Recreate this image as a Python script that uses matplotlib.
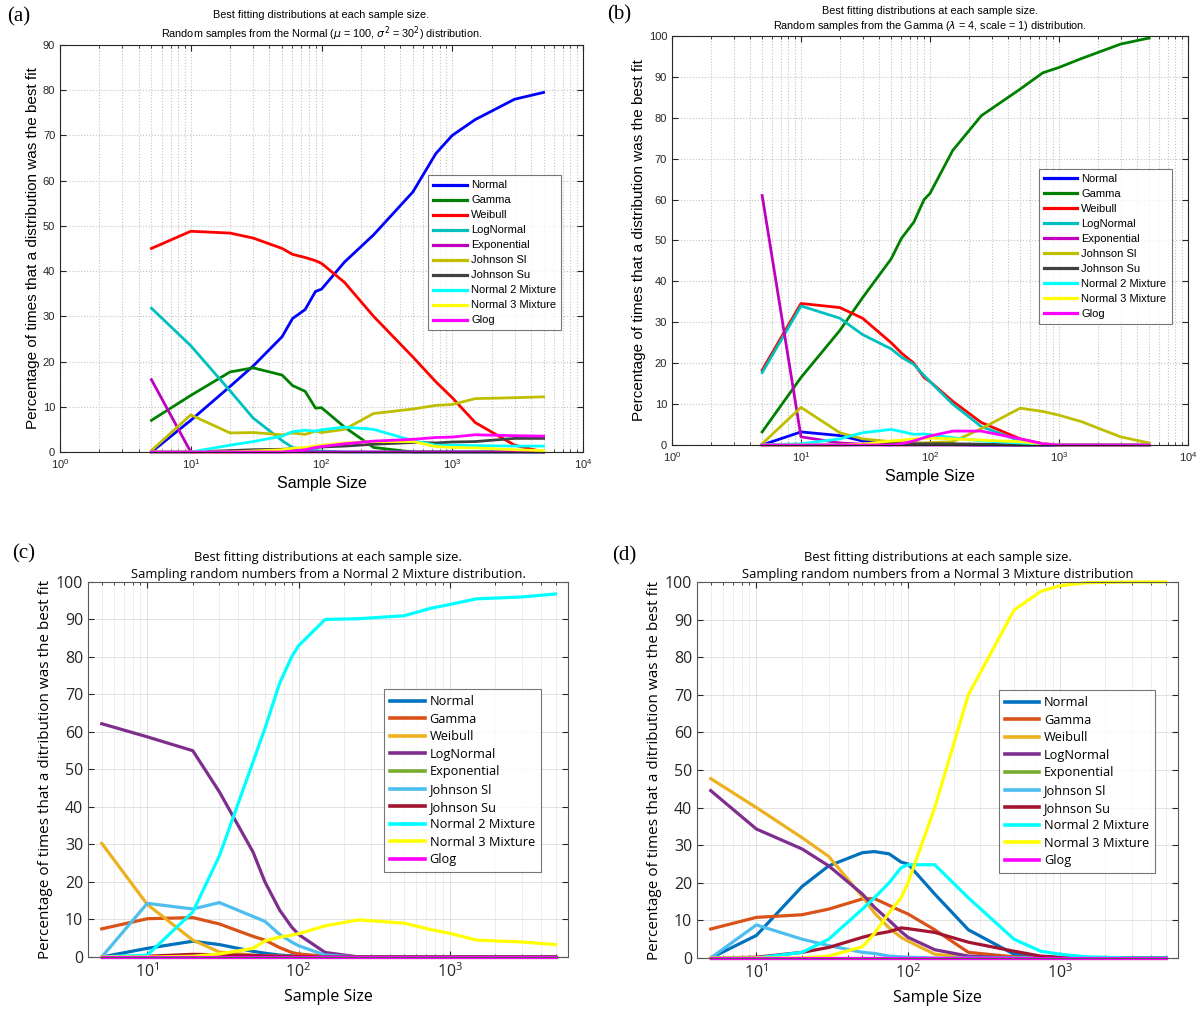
#!/usr/bin/env python3
import numpy as np
import matplotlib
matplotlib.use('Agg')
import matplotlib.pyplot as plt
from matplotlib.ticker import LogLocator, NullFormatter, MultipleLocator

# sample sizes
N = [5, 10, 20, 30, 50, 60, 75, 90, 100, 150, 250, 500, 750, 1000, 1500, 3000, 5000]

names = ['Normal', 'Gamma', 'Weibull', 'LogNormal', 'Exponential', 'Johnson Sl',
         'Johnson Su', 'Normal 2 Mixture', 'Normal 3 Mixture', 'Glog']

# (a) samples from Normal
a_normal = [0, 7, 14.5, 19, 25.5, 29.5, 31.5, 35.5, 36, 42, 48, 57.5, 66, 70, 73.5, 78, 79.5]
a_gamma = [7, 12.5, 17.7, 18.6, 17, 14.7, 13.4, 9.7, 9.8, 5.5, 1, 0, 0, 0, 0, 0, 0]
a_weibull = [45, 48.8, 48.4, 47.3, 45, 43.7, 43, 42.3, 41.7, 37.5, 30, 21, 15.5, 12, 6.5, 1.5, 0]
a_lognormal = [31.8, 23.5, 13.5, 7.5, 2.5, 1, 0.5, 0.3, 0.2, 0, 0, 0, 0, 0, 0, 0, 0]
a_expon = [16, 0, 0, 0, 0, 0, 0, 0, 0, 0, 0, 0, 0, 0, 0, 0, 0]
a_jsl = [0.3, 8.2, 4.2, 4.3, 3.8, 4.2, 3.9, 4.6, 4.3, 5, 8.5, 9.5, 10.3, 10.5, 11.8, 12, 12.2]
a_jsu = [0, 0, 0.3, 0.5, 0.6, 0.7, 0.8, 1.0, 1.1, 1.3, 1.7, 2.1, 2.0, 2.2, 2.3, 3.0, 3.0]
a_n2mix = [0, 0, 1.5, 2.3, 3.5, 4.5, 4.8, 4.6, 4.9, 5.5, 5.0, 2.5, 1.5, 1.5, 1.4, 1.3, 1.3]
a_n3mix = [0, 0, 0, 0.2, 0.5, 0.8, 1.0, 1.3, 1.5, 2.0, 2.3, 2.3, 1.2, 1.0, 0.9, 0.5, 0.3]
a_glog = [0, 0, 0, 0, 0, 0.2, 0.5, 1.0, 1.2, 1.8, 2.4, 2.8, 3.2, 3.3, 3.8, 3.6, 3.5]

# (b) samples from Gamma
b_normal = [0, 3.2, 2.3, 1, 0.5, 0.4, 0.3, 0.2, 0.2, 0.1, 0, 0, 0, 0, 0, 0, 0]
b_gamma = [3.2, 16.5, 28, 36, 45.5, 50.5, 54.5, 60, 61.5, 72, 80.5, 87, 91, 92.3, 94.5, 98, 99.5]
b_weibull = [18.3, 34.6, 33.6, 31, 25, 22.5, 20, 16.5, 15.5, 10.7, 5.5, 1.5, 0.3, 0, 0, 0, 0]
b_lognormal = [17.7, 34, 31, 27, 23.5, 21.5, 19.7, 17, 15.5, 10, 4.5, 1.0, 0.2, 0, 0, 0, 0]
b_expon = [61, 2, 0.5, 0.2, 0, 0, 0, 0, 0, 0, 0, 0, 0, 0, 0, 0, 0]
b_jsl = [0.3, 9.2, 3, 1.5, 0.8, 0.6, 0.6, 0.5, 0.6, 0.8, 4, 9, 8.2, 7.3, 5.7, 2, 0.5]
b_jsu = [0, 0, 0, 0.1, 0.3, 0.3, 0.3, 0.3, 0.3, 0.3, 0.2, 0, 0, 0, 0, 0, 0]
b_n2mix = [0, 0.3, 1.5, 3, 3.8, 3.3, 2.6, 2.7, 2.5, 1.8, 1.0, 0.5, 0.2, 0, 0, 0, 0]
b_n3mix = [0, 0, 0, 0.2, 1.0, 1.2, 1.5, 1.6, 1.7, 1.5, 1.2, 0.8, 0.3, 0, 0, 0, 0]
b_glog = [0, 0, 0, 0, 0, 0.3, 1.0, 1.8, 2.2, 3.4, 3.4, 1.5, 0.3, 0, 0, 0, 0]

# (c) samples from Normal 2 Mixture
c_normal = [0, 2.3, 4.2, 3.3, 1.5, 1.0, 0.5, 0.3, 0.2, 0, 0, 0, 0, 0, 0, 0, 0]
c_gamma = [7.5, 10.2, 10.5, 8.8, 5.5, 4.5, 2.5, 1.2, 0.8, 0.2, 0, 0, 0, 0, 0, 0, 0]
c_weibull = [30.3, 14, 4.5, 1.3, 0.5, 0.3, 0.2, 0.1, 0, 0, 0, 0, 0, 0, 0, 0, 0]
c_lognormal = [62.2, 58.7, 55, 44, 28, 20, 12.5, 8, 6, 1.2, 0, 0, 0, 0, 0, 0, 0]
c_expon = [0] * 17
c_jsl = [0, 14.3, 12.8, 14.5, 10.8, 9.5, 6, 4, 3, 0.5, 0, 0, 0, 0, 0, 0, 0]
c_jsu = [0, 0.2, 0.7, 0.6, 0.4, 0.3, 0.2, 0.1, 0.1, 0, 0, 0, 0, 0, 0, 0, 0]
c_n2mix = [0, 0.5, 12, 27, 52, 61, 73, 80, 83, 90, 90.2, 91, 93, 94, 95.5, 96, 96.8]
c_n3mix = [0, 0, 0.2, 0.8, 2.3, 4.3, 5.3, 5.8, 6.2, 8.3, 9.9, 9.0, 7.3, 6.3, 4.5, 4.0, 3.3]
c_glog = [0] * 17

# (d) samples from Normal 3 Mixture
d_normal = [0, 6, 19, 24.5, 28, 28.3, 27.7, 25.5, 25, 17, 7.5, 1, 0.3, 0, 0, 0, 0]
d_gamma = [7.7, 10.8, 11.5, 13, 15.7, 15.8, 14, 12.5, 11.7, 7.5, 1.5, 0.3, 0, 0, 0, 0, 0]
d_weibull = [47.7, 40, 32, 27, 16.3, 12, 8, 5.5, 4.5, 1, 0.2, 0, 0, 0, 0, 0, 0]
d_lognormal = [44.5, 34.3, 29, 24.5, 17, 13.5, 10, 7, 5.5, 2.2, 0.5, 0, 0, 0, 0, 0, 0]
d_expon = [0] * 17
d_jsl = [0, 8.8, 5, 3.3, 1.5, 1.2, 0.5, 0.3, 0.2, 0, 0, 0, 0, 0, 0, 0, 0]
d_jsu = [0, 0.2, 1.5, 2.8, 5.5, 6.3, 7, 8, 7.8, 6.8, 4.2, 1.8, 0.5, 0.2, 0, 0, 0]
d_n2mix = [0, 0, 1.5, 5, 13, 16, 20, 24, 24.8, 24.8, 16, 5, 1.8, 1.0, 0.3, 0, 0]
d_n3mix = [0, 0, 0, 0.5, 3, 6.5, 12, 16, 20, 40, 70, 92.5, 97.5, 99, 99.8, 100, 100]
d_glog = [0] * 17

old_colors = ['#0000ff', '#008000', '#ff0000', '#00bfbf', '#bf00bf', '#bfbf00',
              '#404040', '#00ffff', '#ffff00', '#ff00ff']
new_colors = ['#0072bd', '#d95319', '#edb120', '#7e2f8e', '#77ac30', '#4dbeee',
              '#a2142f', '#00ffff', '#ffff00', '#ff00ff']

panels = [
    dict(tag='(a)', tagpos=(0.006, 0.983), series=[a_normal, a_gamma, a_weibull, a_lognormal, a_expon, a_jsl,
                            a_jsu, a_n2mix, a_n3mix, a_glog],
         title='Best fitting distributions at each sample size.\n'
               'Random samples from the Normal ($\\mu$ = 100, $\\sigma^2$ = 30$^2$) distribution.',
         ylabel='Percentage of times that a distribution was the best fit',
         pos=[0.0499, 0.5525, 0.4347, 0.403], ymax=90, xlim=(1, 1e4),
         leg=(0.969, 0.693), old=True),
    dict(tag='(b)', tagpos=(0.505, 0.985), series=[b_normal, b_gamma, b_weibull, b_lognormal, b_expon, b_jsl,
                            b_jsu, b_n2mix, b_n3mix, b_glog],
         title='Best fitting distributions at each sample size.\n'
               'Random samples from the Gamma ($\\lambda$ = 4, scale = 1) distribution.',
         ylabel='Percentage of times that a distribution was the best fit',
         pos=[0.5586, 0.5594, 0.4289, 0.405], ymax=100, xlim=(1, 1e4),
         leg=(0.979, 0.689), old=True),
    dict(tag='(c)', tagpos=(0.010, 0.452), series=[c_normal, c_gamma, c_weibull, c_lognormal, c_expon, c_jsl,
                            c_jsu, c_n2mix, c_n3mix, c_glog],
         title='Best fitting distributions at each sample size.\n'
               'Sampling random numbers from a Normal 2 Mixture distribution.',
         ylabel='Percentage of times that a ditribution was the best fit',
         pos=[0.0732, 0.0525, 0.399, 0.3713], ymax=100, xlim=(4.06, 6050),
         leg=(0.956, 0.731), old=False),
    dict(tag='(d)', tagpos=(0.509, 0.450), series=[d_normal, d_gamma, d_weibull, d_lognormal, d_expon, d_jsl,
                            d_jsu, d_n2mix, d_n3mix, d_glog],
         title='Best fitting distributions at each sample size.\n'
               'Sampling random numbers from a Normal 3 Mixture distribution',
         ylabel='Percentage of times that a ditribution was the best fit',
         pos=[0.5794, 0.0515, 0.400, 0.3723], ymax=100, xlim=(4.06, 6050),
         leg=(0.965, 0.729), old=False),
]

fig = plt.figure(figsize=(12.03, 10.10), dpi=100)

for p in panels:
    ax = fig.add_axes(p['pos'])
    old = p['old']
    colors = old_colors if old else new_colors
    fam = 'Liberation Sans' if old else 'Open Sans'
    lw = 2.0 if old else 2.3
    for name, y, c in zip(names, p['series'], colors):
        ax.plot(N, y, color=c, lw=lw, label=name, clip_on=False)
    ax.set_xscale('log')
    ax.set_xlim(*p['xlim'])
    ax.set_ylim(0, p['ymax'])
    ax.yaxis.set_major_locator(MultipleLocator(10))
    ax.xaxis.set_major_locator(LogLocator(base=10, numticks=10))
    ax.xaxis.set_minor_locator(LogLocator(base=10, subs=np.arange(2, 10), numticks=20))
    ax.xaxis.set_minor_formatter(NullFormatter())

    if old:
        gkw = dict(color='#c4c4c4', ls=':', lw=0.8)
        ax.grid(True, which='major', axis='both', **gkw)
        ax.grid(True, which='minor', axis='x', **gkw)
        tick_fs, lab_fs, title_fs, leg_fs = 8, 11, 7.8, 8
        spine_c = '#262626'
        xpad, tpad = 4, 5
        hlen = 3.0
    else:
        ax.grid(True, which='major', axis='both', color='#dcdcdc', ls='-', lw=0.6)
        ax.grid(True, which='minor', axis='x', color='#e8e8e8', ls='-', lw=0.5)
        tick_fs, lab_fs, title_fs, leg_fs = 11.5, 11, 9.3, 9.2
        spine_c = '#5a5a5a'
        xpad, tpad = 6, 3
        hlen = 2.7
    ax.set_axisbelow(True)
    for s in ax.spines.values():
        s.set_color(spine_c)
        s.set_linewidth(0.8)
    ax.tick_params(which='both', direction='in', top=True, right=True,
                   labelsize=tick_fs, colors='#262626')
    ax.tick_params(which='major', length=4)
    ax.tick_params(which='minor', length=2)
    for lbl in ax.get_xticklabels() + ax.get_yticklabels():
        lbl.set_family(fam)

    ax.set_title(p['title'], fontsize=title_fs, family=fam, pad=tpad, linespacing=1.35)
    ax.set_xlabel('Sample Size', fontsize=lab_fs + 0.5, family=fam, labelpad=xpad)
    ax.set_ylabel(p['ylabel'], fontsize=lab_fs, family=fam, labelpad=2)

    leg = ax.legend(loc='upper right', bbox_to_anchor=p['leg'],
                    frameon=True, fancybox=False, handlelength=hlen, handletextpad=0.4,
                    labelspacing=0.45 if old else 0.36, borderpad=0.45,
                    prop=dict(family=fam, size=leg_fs))
    leg.get_frame().set_edgecolor('#555555')
    leg.get_frame().set_linewidth(0.8)
    for line in leg.get_lines():
        line.set_linewidth(lw + 0.3)

    fig.text(p['tagpos'][0], p['tagpos'][1], p['tag'], fontsize=15,
             family='Liberation Serif', va='center')

fig.savefig('out.png', dpi=100)
